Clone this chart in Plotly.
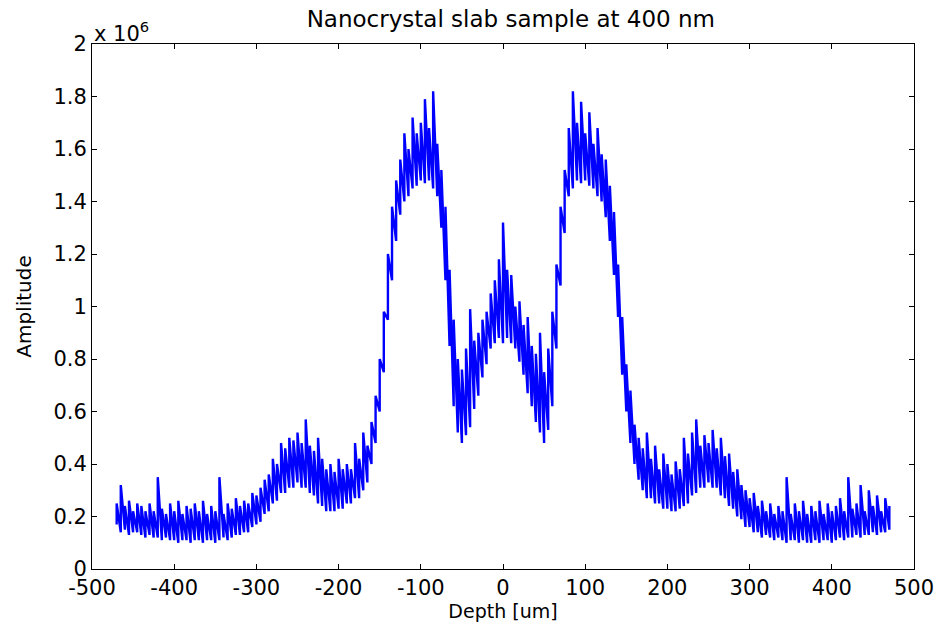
import plotly.graph_objects as go

# Depth positions (um), sampled every 5 um from -470 to 470
depth_um = list(range(-470, 475, 5))

# Lower edge of the dense noisy band (x 1e6)
amp_base = [
    0.17, 0.14, 0.15, 0.13, 0.14, 0.14, 0.13, 0.12, 0.13, 0.12,   # -470 .. -425
    0.12, 0.11, 0.12, 0.11, 0.11, 0.10, 0.11, 0.11, 0.10, 0.11,   # -420 .. -375
    0.11, 0.10, 0.11, 0.11, 0.10, 0.11, 0.12, 0.11, 0.12, 0.13,   # -370 .. -325
    0.13, 0.14, 0.14, 0.16, 0.17, 0.18, 0.21, 0.22, 0.25, 0.26,   # -320 .. -275
    0.29, 0.29, 0.31, 0.31, 0.33, 0.31, 0.31, 0.29, 0.28, 0.25,   # -270 .. -225
    0.24, 0.22, 0.22, 0.22, 0.23, 0.23, 0.25, 0.25, 0.27, 0.27,   # -220 .. -175
    0.30, 0.33, 0.40, 0.48, 0.60, 0.75, 0.95, 1.10, 1.25, 1.35,   # -170 .. -125
    1.40, 1.42, 1.45, 1.46, 1.48, 1.47, 1.48, 1.45, 1.42, 1.30,   # -120 .. -75
    1.10, 0.85, 0.62, 0.52, 0.48, 0.51, 0.54, 0.61, 0.66, 0.73,   # -70 .. -25
    0.78, 0.84, 0.86, 0.88, 0.86,                                 # -20 .. 0
    0.88, 0.86, 0.84, 0.79, 0.74, 0.67, 0.62, 0.56, 0.52, 0.48,   # 5 .. 50
    0.53, 0.62, 0.84, 1.08, 1.28, 1.42, 1.45, 1.48, 1.47, 1.48,   # 55 .. 100
    1.46, 1.45, 1.42, 1.40, 1.34, 1.25, 1.12, 0.96, 0.74, 0.60,   # 105 .. 150
    0.48, 0.40, 0.34, 0.30, 0.27, 0.27, 0.25, 0.25, 0.23, 0.23,   # 155 .. 200
    0.22, 0.22, 0.23, 0.24, 0.25, 0.28, 0.29, 0.31, 0.31, 0.33,   # 205 .. 250
    0.31, 0.31, 0.28, 0.27, 0.24, 0.23, 0.20, 0.19, 0.16, 0.16,   # 255 .. 300
    0.14, 0.14, 0.12, 0.13, 0.12, 0.11, 0.12, 0.11, 0.10, 0.11,   # 305 .. 350
    0.11, 0.10, 0.11, 0.10, 0.10, 0.11, 0.10, 0.11, 0.11, 0.10,   # 355 .. 400
    0.11, 0.12, 0.11, 0.12, 0.12, 0.13, 0.12, 0.13, 0.13, 0.14,   # 405 .. 450
    0.13, 0.14, 0.14, 0.15,                                       # 455 .. 470
]

# Tops of the noise spikes (x 1e6)
amp_peak = [
    0.25, 0.32, 0.24, 0.26, 0.22, 0.25, 0.24, 0.22, 0.25, 0.22,   # -470 .. -425
    0.35, 0.23, 0.21, 0.25, 0.22, 0.26, 0.21, 0.24, 0.23, 0.25,   # -420 .. -375
    0.22, 0.26, 0.21, 0.24, 0.22, 0.35, 0.21, 0.25, 0.23, 0.27,   # -370 .. -325
    0.24, 0.26, 0.25, 0.29, 0.28, 0.31, 0.34, 0.36, 0.42, 0.40,   # -320 .. -275
    0.48, 0.46, 0.50, 0.49, 0.52, 0.48, 0.57, 0.47, 0.45, 0.50,   # -270 .. -225
    0.42, 0.38, 0.40, 0.37, 0.42, 0.38, 0.40, 0.38, 0.48, 0.42,   # -220 .. -175
    0.52, 0.47, 0.56, 0.66, 0.80, 0.98, 1.20, 1.38, 1.48, 1.56,   # -170 .. -125
    1.66, 1.60, 1.72, 1.66, 1.70, 1.79, 1.68, 1.82, 1.62, 1.52,   # -120 .. -75
    1.38, 1.14, 0.95, 0.80, 0.76, 0.84, 0.99, 0.87, 0.90, 0.95,   # -70 .. -25
    0.98, 1.05, 1.10, 1.18, 1.32,                                 # -20 .. 0
    1.14, 1.12, 1.00, 1.02, 0.93, 0.96, 0.85, 0.82, 0.90, 0.75,   # 5 .. 50
    0.84, 0.98, 1.16, 1.38, 1.52, 1.68, 1.82, 1.70, 1.78, 1.66,   # 55 .. 100
    1.74, 1.62, 1.68, 1.58, 1.56, 1.46, 1.36, 1.16, 0.96, 0.78,   # 105 .. 150
    0.68, 0.55, 0.50, 0.46, 0.52, 0.42, 0.47, 0.38, 0.44, 0.40,   # 155 .. 200
    0.36, 0.41, 0.38, 0.50, 0.44, 0.52, 0.57, 0.47, 0.51, 0.48,   # 205 .. 250
    0.53, 0.46, 0.50, 0.43, 0.44, 0.37, 0.38, 0.32, 0.30, 0.27,   # 255 .. 300
    0.29, 0.24, 0.26, 0.22, 0.25, 0.21, 0.24, 0.22, 0.35, 0.21,   # 305 .. 350
    0.25, 0.22, 0.26, 0.21, 0.24, 0.22, 0.26, 0.21, 0.25, 0.22,   # 355 .. 400
    0.24, 0.27, 0.22, 0.35, 0.23, 0.25, 0.32, 0.22, 0.30, 0.24,   # 405 .. 450
    0.28, 0.22, 0.27, 0.24,                                       # 455 .. 470
]

x_ticks = [-500, -400, -300, -200, -100, 0, 100, 200, 300, 400, 500]
x_tick_text = ["-500", "-400", "-300", "-200", "-100", "0", "100", "200", "300", "400", "500"]
y_ticks = [0, 0.2, 0.4, 0.6, 0.8, 1.0, 1.2, 1.4, 1.6, 1.8, 2.0]
y_tick_text = ["0", "0.2", "0.4", "0.6", "0.8", "1", "1.2", "1.4", "1.6", "1.8", "2"]

# Build a spiky trace: vertical stroke from base to peak at each depth
xs, ys = [], []
for d, b, p in zip(depth_um, amp_base, amp_peak):
    xs += [d, d]
    ys += [b, p]

FONT = "DejaVu Sans, Arial, sans-serif"

fig = go.Figure()
fig.add_trace(go.Scatter(
    x=xs, y=ys, mode="lines",
    line=dict(color="#0000FF", width=2.4),
    hoverinfo="skip", showlegend=False,
))

axis_common = dict(
    showline=True, linecolor="black", linewidth=1, mirror="ticks",
    ticks="inside", ticklen=5, tickcolor="black", tickwidth=1,
    showgrid=False, zeroline=False,
    tickfont=dict(family=FONT, size=21, color="black"),
)

fig.update_layout(
    width=946, height=629,
    margin=dict(l=92, r=28, t=44, b=60),
    plot_bgcolor="white", paper_bgcolor="white",
    title=dict(text="Nanocrystal slab sample at 400 nm", x=0.54, xanchor="center",
               y=0.970, yanchor="middle",
               font=dict(family=FONT, size=23, color="black")),
    xaxis=dict(range=[-500, 500], tickvals=x_ticks, ticktext=x_tick_text, **axis_common,
               title=dict(text="Depth [um]", standoff=0,
                          font=dict(family=FONT, size=19, color="black"))),
    yaxis=dict(range=[0, 2], tickvals=y_ticks, ticktext=y_tick_text, **axis_common,
               title=dict(text="Amplitude", standoff=16,
                          font=dict(family=FONT, size=20, color="black"))),
    annotations=[dict(
        text="x 10<sup>6</sup>", xref="paper", yref="paper", x=0.0, y=1.0,
        xanchor="left", yanchor="bottom", showarrow=False, yshift=-4,
        font=dict(family=FONT, size=21, color="black"),
    )],
)

fig.write_html("out.html")
